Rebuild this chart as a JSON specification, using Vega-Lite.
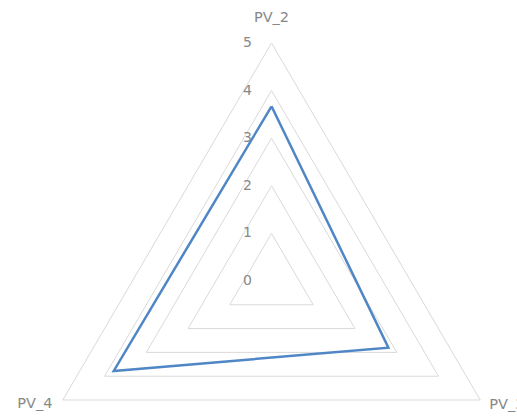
{
  "$schema": "https://vega.github.io/schema/vega-lite/v6.json",
  "width": 517,
  "height": 416,
  "autosize": "none",
  "padding": 0,
  "background": "white",
  "config": {"view": {"stroke": null}},
  "datasets": {
    "axes": [
      {"axis": "PV_2", "deg": 90},
      {"axis": "PV_3", "deg": -30},
      {"axis": "PV_4", "deg": 210}
    ],
    "series": [
      {"axis": "PV_2", "value": 3.67, "k": 0},
      {"axis": "PV_3", "value": 2.8, "k": 1},
      {"axis": "PV_4", "value": 3.78, "k": 2},
      {"axis": "PV_2", "value": 3.67, "k": 3}
    ],
    "grid": [{"level": 1}, {"level": 2}, {"level": 3}, {"level": 4}, {"level": 5}],
    "ticks": [{"level": 0}, {"level": 1}, {"level": 2}, {"level": 3}, {"level": 4}, {"level": 5}]
  },
  "layer": [
    {
      "data": {"name": "grid"},
      "transform": [
        {"calculate": "[90, -30, 210, 90]", "as": "deg"},
        {"calculate": "[0, 1, 2, 3]", "as": "k"},
        {"flatten": ["deg", "k"]},
        {"calculate": "datum.level * cos(datum.deg * PI / 180)", "as": "x"},
        {"calculate": "datum.level * sin(datum.deg * PI / 180)", "as": "y"}
      ],
      "mark": {"type": "line", "stroke": "#d9d9d9", "strokeWidth": 1},
      "encoding": {
        "x": {"field": "x", "type": "quantitative", "scale": {"domain": [-5.633, 5.093], "nice": false, "zero": false}, "axis": null},
        "y": {"field": "y", "type": "quantitative", "scale": {"domain": [-2.836, 5.903], "nice": false, "zero": false}, "axis": null},
        "detail": {"field": "level", "type": "nominal"},
        "order": {"field": "k", "type": "quantitative"}
      }
    },
    {
      "data": {"name": "series"},
      "transform": [
        {"lookup": "axis", "from": {"data": {"name": "axes"}, "key": "axis", "fields": ["deg"]}},
        {"calculate": "datum.value * cos(datum.deg * PI / 180)", "as": "x"},
        {"calculate": "datum.value * sin(datum.deg * PI / 180)", "as": "y"}
      ],
      "mark": {"type": "line", "stroke": "#4f86c6", "strokeWidth": 2.5, "strokeJoin": "miter"},
      "encoding": {
        "x": {"field": "x", "type": "quantitative"},
        "y": {"field": "y", "type": "quantitative"},
        "order": {"field": "k", "type": "quantitative"}
      }
    },
    {
      "data": {"name": "ticks"},
      "mark": {"type": "text", "dx": -24, "align": "center", "baseline": "middle", "font": "DejaVu Sans", "fontSize": 14, "fill": "#888888"},
      "encoding": {
        "x": {"datum": 0, "type": "quantitative"},
        "y": {"field": "level", "type": "quantitative"},
        "text": {"field": "level", "type": "nominal"}
      }
    },
    {
      "data": {"name": "axes"},
      "transform": [
        {"filter": "datum.axis == 'PV_2'"},
        {"calculate": "5 * cos(datum.deg * PI / 180)", "as": "x"},
        {"calculate": "5 * sin(datum.deg * PI / 180)", "as": "y"}
      ],
      "mark": {"type": "text", "dy": -25, "align": "center", "baseline": "middle", "font": "DejaVu Sans", "fontSize": 14.5, "fill": "#888888"},
      "encoding": {
        "x": {"field": "x", "type": "quantitative"},
        "y": {"field": "y", "type": "quantitative"},
        "text": {"field": "axis", "type": "nominal"}
      }
    },
    {
      "data": {"name": "axes"},
      "transform": [
        {"filter": "datum.axis == 'PV_4'"},
        {"calculate": "5 * cos(datum.deg * PI / 180)", "as": "x"},
        {"calculate": "5 * sin(datum.deg * PI / 180)", "as": "y"}
      ],
      "mark": {"type": "text", "dx": -28, "dy": 4, "align": "center", "baseline": "middle", "font": "DejaVu Sans", "fontSize": 14.5, "fill": "#888888"},
      "encoding": {
        "x": {"field": "x", "type": "quantitative"},
        "y": {"field": "y", "type": "quantitative"},
        "text": {"field": "axis", "type": "nominal"}
      }
    },
    {
      "data": {"name": "axes"},
      "transform": [
        {"filter": "datum.axis == 'PV_3'"},
        {"calculate": "5 * cos(datum.deg * PI / 180)", "as": "x"},
        {"calculate": "5 * sin(datum.deg * PI / 180)", "as": "y"}
      ],
      "mark": {"type": "text", "dx": 9, "dy": 5, "align": "left", "baseline": "middle", "font": "DejaVu Sans", "fontSize": 14.5, "fill": "#888888"},
      "encoding": {
        "x": {"field": "x", "type": "quantitative"},
        "y": {"field": "y", "type": "quantitative"},
        "text": {"field": "axis", "type": "nominal"}
      }
    }
  ]
}
